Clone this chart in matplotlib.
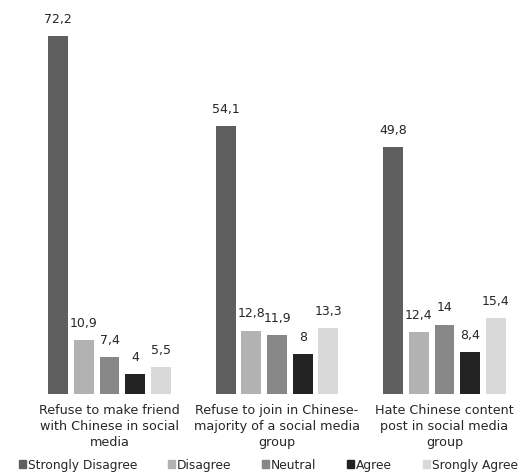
import numpy as np
import matplotlib.pyplot as plt
from matplotlib.patches import Patch

plt.rcParams['font.family'] = ['DejaVu Sans']

categories = [
    "Refuse to make friend\nwith Chinese in social\nmedia",
    "Refuse to join in Chinese-\nmajority of a social media\ngroup",
    "Hate Chinese content\npost in social media\ngroup",
]
series = ["Strongly Disagree", "Disagree", "Neutral", "Agree", "Srongly Agree"]
strongly_disagree = [72.2, 54.1, 49.8]
disagree = [10.9, 12.8, 12.4]
neutral = [7.4, 11.9, 14]
agree = [4, 8, 8.4]
strongly_agree = [5.5, 13.3, 15.4]
values = [strongly_disagree, disagree, neutral, agree, strongly_agree]
colors = ["#5f5f5f", "#b2b2b2", "#878787", "#232323", "#d9d9d9"]

fig = plt.figure(figsize=(5.23, 4.77), dpi=100)
# axes placed in pixels: left 25.75, bottom 82, top 467
ax = fig.add_axes([25.75 / 523, 82 / 477, (523 - 25.75) / 523, 385 / 477])

x = np.arange(len(categories))
step = 0.1534
width = 0.119
for i, (name, vals, c) in enumerate(zip(series, values, colors)):
    bars = ax.bar(x + (i - 2) * step, vals, width, color=c, label=name)
    ax.bar_label(bars, labels=[f"{v:g}".replace(".", ",") for v in vals],
                 padding=8, fontsize=9, color="#262626")

ax.set_xlim(-0.5, -0.5 + (523 - 25.75) / 167.5)
ax.set_ylim(0, 385 / 4.96)
ax.set_xticks(x)
ax.set_xticklabels(categories, fontsize=9.2, color="#262626", linespacing=1.32)
ax.tick_params(axis="x", length=0, pad=6.5)
ax.set_yticks([])
for s in ax.spines.values():
    s.set_visible(False)

handles = [Patch(color=c) for c in colors]
fig.legend(handles, series, loc="center", bbox_to_anchor=(0.513, 11 / 477), ncol=5,
           frameon=False, fontsize=8.8, handlelength=0.6, handleheight=0.6,
           handletextpad=0.15, columnspacing=2.5, labelcolor="#262626",
           borderpad=0, borderaxespad=0)

fig.savefig("out.png", dpi=100)
